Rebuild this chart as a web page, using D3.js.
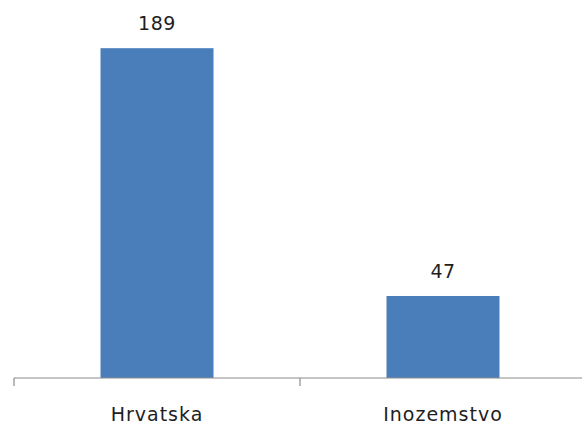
<!DOCTYPE html>
<html>
<head>
<meta charset="utf-8">
<script src="https://cdn.jsdelivr.net/npm/d3@7"></script>
<style>
  body { margin: 0; background: #fff; }
  text { font-family: "DejaVu Sans", sans-serif; }
</style>
</head>
<body>
<div id="plot-container"></div>
<script>
// chart data
var categories = ["Hrvatska", "Inozemstvo"];
var values = [189, 47];

var width = 582;
var height = 428;
var axisY = 378;

var svg = d3.select("#plot-container")
  .append("svg")
  .attr("width", width)
  .attr("height", height);

var x = d3.scaleBand()
  .domain(categories)
  .range([14, 586])
  .paddingInner(0)
  .paddingOuter(0);

var y = d3.scaleLinear()
  .domain([0, 200])
  .range([axisY, 29]);

var barWidth = 113;

svg.selectAll("rect.bar")
  .data(values)
  .enter()
  .append("rect")
  .attr("class", "bar")
  .attr("x", function(d, i){ return x(categories[i]) + x.bandwidth() / 2 - barWidth / 2; })
  .attr("y", function(d){ return y(d); })
  .attr("width", barWidth)
  .attr("height", function(d){ return axisY - y(d); })
  .attr("fill", "#4a7ebb");

svg.selectAll("text.value")
  .data(values)
  .enter()
  .append("text")
  .attr("class", "value")
  .attr("x", function(d, i){ return x(categories[i]) + x.bandwidth() / 2; })
  .attr("y", function(d){ return y(d) - 18; })
  .attr("text-anchor", "middle")
  .attr("font-size", 19)
  .attr("letter-spacing", 0.5)
  .attr("fill", "#1e1e1e")
  .text(function(d){ return d; });

// x axis with ticks at band edges
var axis = svg.append("g").attr("transform", "translate(0," + axisY + ")");
axis.append("line")
  .attr("x1", 14).attr("x2", 586)
  .attr("y1", 0).attr("y2", 0)
  .attr("stroke", "#8c8c8c")
  .attr("stroke-width", 1.2);

var edges = categories.map(function(c){ return x(c); }).concat([x.range()[1]]);
axis.selectAll("line.tick")
  .data(edges)
  .enter()
  .append("line")
  .attr("class", "tick")
  .attr("x1", function(d){ return d; })
  .attr("x2", function(d){ return d; })
  .attr("y1", 0).attr("y2", 8)
  .attr("stroke", "#8c8c8c")
  .attr("stroke-width", 1.2);

axis.selectAll("text.cat")
  .data(categories)
  .enter()
  .append("text")
  .attr("class", "cat")
  .attr("x", function(d){ return x(d) + x.bandwidth() / 2; })
  .attr("y", 43)
  .attr("text-anchor", "middle")
  .attr("font-size", 19)
  .attr("letter-spacing", 1)
  .attr("fill", "#1e1e1e")
  .text(function(d){ return d; });
</script>
</body>
</html>
